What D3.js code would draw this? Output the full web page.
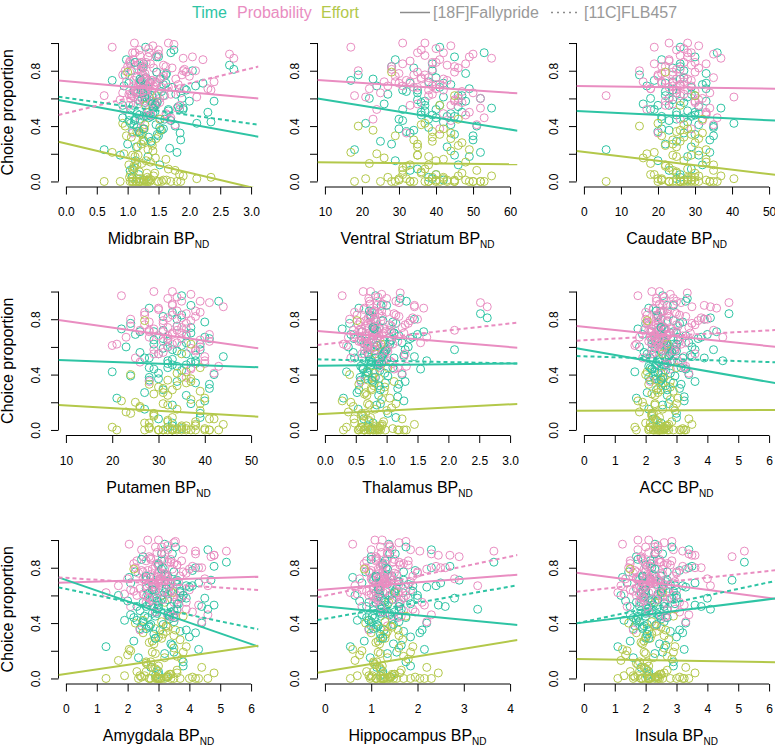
<!DOCTYPE html>
<html>
<head>
<meta charset="utf-8">
<script src="https://cdn.jsdelivr.net/npm/d3@7"></script>
<style>
body { margin: 0; background: #fff; }
text { font-family: "Liberation Sans", Arial, Helvetica, sans-serif; }
</style>
</head>
<body>
<div id="chart"></div>
<script>
// panels and x limits
var regions = ["Midbrain", "Ventral Striatum", "Caudate", "Putamen", "Thalamus", "ACC", "Amygdala", "Hippocampus", "Insula"];
var xlims = [[0, 3], [10, 60], [0, 50], [10, 50], [0, 3], [0, 6], [0, 6], [0, 4], [0, 6]];
var xsteps = [0.5, 10, 10, 10, 0.5, 1, 1, 1, 1];
var yTicks = [0, 0.2, 0.4, 0.6, 0.8, 1.0];
var yTickLabels = ["0.0", "", "0.4", "", "0.8", ""];

// [18F]Fallypride subjects: choice proportions
var timeF = [.45,.61,.88,.34,.66,.52,.78,.05, .23,.57,.49,.71,.02,.63,.40,.55,
  .82,.30,.69,.47,.58,.12,.36,.75, .27,.50,.64,.93,.01,.44,.53,.72,
  .60,.19,.38,.80,.67,.48,.56,.25, .42,.97,.08,.62,.51,.70,.77,.33,
  .59,.46,.65,.21,.85,.54,.15,.43, .50,.73,.68,.37,.58,.03,.90,.45,
  .35,.62,.48,.29,.71,.55,.18,.66, .41,.83,.52,.09,.60,.39,.74,.47];
var probF = [.66,.93,.72,.58,.79,.85,.48,.70, .62,.75,.98,.55,.81,.69,.41,.88,
  .77,.64,.52,.73,.91,.60,.35,.86, .83,.57,.68,.46,.74,1.0,.89,.71,
  .67,.59,.78,.63,.50,.95,.72,.84, .61,.70,.87,.65,1.0,.44,.80,.92,
  .56,.96,.73,.53,.69,.82,.76,.66, .74,.97,.38,.68,.85,.62,.79,.71,
  .72,.58,.86,.64,.49,.77,.90,.69, .55,.81,.67,.93,.60,.75,.45,.83];
var effortF = [.18,.02,.33,.00,.27,.05,.01,.00, .00,.41,.22,.12,.36,.03,.08,.00,
  .30,.00,.20,.01,.00,.45,.02,.15, .79,.06,.25,.00,.38,.10,.04,.00,
  .13,.00,.01,.32,.23,.07,.17,.00, .02,.55,.00,.28,.09,.35,.40,.00,
  .19,.01,.11,.00,.29,.04,.00,.03, .06,.21,.34,.00,.14,.00,.62,.02,
  .00,.26,.03,.00,.16,.42,.00,.08, .31,.00,.05,.19,.00,.12,.37,.01];

// [11C]FLB457 subjects: choice proportions
var timeB = [.55,.68,.41,.80,.47,.62,.35,.74, .58,.90,.44,.66,.52,.29,.71,.49,
  .63,.38,.84,.57,.46,.77,.60,.32, .69,.53,.95,.42,.65,.50,.24,.73,
  .56,.81,.45,.61,.67,.39,.86,.54, .48,.70,.36,.58,.79,.44,.64,.52];
var probB = [.70,.82,.61,.90,.66,.76,.55,.85, .72,.95,.63,.79,.68,.48,.88,.65,
  .74,.58,.92,.71,.64,.83,.77,.52, .80,.69,.99,.60,.75,.67,.45,.86,
  .73,.89,.62,.78,.81,.57,.93,.70, .68,.84,.59,.76,.91,.63,.72,.80];

// BPnd per region, Fallypride subjects
var midbrainF = [1.12,1.35,0.98,1.48,1.22,1.05,1.63,1.18, 0.62,1.28,1.41,1.02,1.15,1.32,1.77,1.09,
  1.25,1.86,0.94,1.38,1.20,1.52,1.08,1.30, 1.00,1.44,1.16,1.70,1.27,1.11,1.90,1.36,
  1.23,0.88,1.58,1.06,1.33,1.19,1.45,1.14, 2.12,1.29,1.04,1.39,1.66,1.21,0.96,1.50,
  1.17,1.34,1.10,1.80,1.26,1.42,1.13,2.35, 1.31,0.75,1.24,1.55,1.37,1.07,1.47,1.20,
  1.19,1.40,1.03,1.27,1.62,0.92,1.33,1.10, 1.46,1.22,1.84,1.08,1.30,1.15,1.53,1.26];
var vsF = [38,42,29,45,35,31,48,40, 18,36,44,33,39,27,51,41,
  34,50,24,43,37,46,32,40, 28,47,35,53,42,31,55,38,
  22,45,30,39,49,36,26,43, 21,41,33,47,37,44,19,50,
  35,40,32,52,39,46,29,42, 36,17,41,34,48,38,45,30,
  33,46,39,25,42,37,49,31, 44,28,40,35,52,38,23,45];
var caudateF = [25,28,21,30,24,19,33,26, 6,27,31,22,25,29,35,23,
  24,34,17,29,26,32,20,27, 22,30,25,36,28,23,37,24,
  18,31,21,27,33,25,16,29, 40.5,26,23,30,28,32,15,35,
  24,27,22,34,26,31,20,28, 25,19,29,23,33,26,30,21,
  27,22,30,25,33,20,28,24, 31,26,18,29,23,35,26,21];
var putamenF = [32,35,28,38,31,27,40,33, 21,34,37,29,32,36,42,30,
  31,41,25,36,33,39,28,34, 27,38,32,43,35,29,44,31,
  23,37,28,34,40,32,26,36, 20,35,30,39,33,37,24,41,
  31,34,29,40,33,38,27,35, 32,22,36,30,39,33,37,28,
  34,29,38,31,26,36,33,41, 30,35,28,39,32,24,37,33];
var thalamusF = [0.72,0.85,0.55,0.98,0.66,0.48,1.10,0.78, 0.30,0.80,0.92,0.60,0.70,0.83,1.25,0.64,
  0.75,1.18,0.42,0.88,0.73,1.02,0.58,0.81, 0.52,0.95,0.68,1.32,0.77,0.62,1.45,0.84,
  0.38,0.90,0.57,0.79,1.05,0.71,0.46,0.87, 0.35,0.82,0.63,0.96,0.74,1.12,0.40,1.20,
  0.69,0.86,0.59,1.28,0.76,0.93,0.54,0.89, 0.72,0.28,0.80,0.65,1.00,0.70,0.91,0.61,
  0.78,0.64,0.92,0.55,1.08,0.70,0.84,0.47, 0.97,0.73,0.60,1.15,0.81,0.66,0.88,0.75];
var accF = [2.3,2.6,2.1,2.9,2.4,2.0,3.2,2.5, 1.7,2.5,2.8,2.2,2.35,2.7,3.4,2.25,
  2.4,3.1,1.9,2.65,2.45,3.0,2.15,2.55, 2.05,2.85,2.3,3.3,2.6,2.2,3.5,2.4,
  1.8,2.75,2.1,2.5,3.05,2.35,1.95,2.7, 1.65,2.55,2.25,2.9,2.45,2.8,2.0,3.15,
  2.3,2.6,2.2,3.25,2.5,2.75,2.1,2.65, 2.4,1.75,2.55,2.3,2.95,2.45,2.7,2.15,
  2.45,2.2,2.7,2.35,2.9,2.05,2.55,2.3, 2.8,2.4,2.15,3.0,2.6,2.25,2.5,2.35];
var amygdalaF = [2.9,3.3,2.5,3.7,2.8,2.3,4.1,3.0, 1.3,3.1,3.5,2.6,2.9,3.4,4.4,2.7,
  3.0,4.0,2.1,3.3,2.95,3.8,2.4,3.2, 2.2,3.6,2.85,4.6,3.25,2.65,4.8,3.05,
  1.7,3.5,2.45,3.15,3.9,2.9,2.0,3.4, 1.9,3.2,2.75,3.7,3.0,3.55,2.25,4.2,
  2.8,3.3,2.6,4.3,3.1,3.6,2.35,3.35, 2.95,2.05,3.25,2.7,3.75,3.0,3.45,2.55,
  3.05,2.7,3.4,2.9,3.6,2.5,3.2,2.8, 3.5,3.0,2.6,3.8,3.1,2.75,3.3,2.95];
var hippoF = [1.2,1.45,1.0,1.7,1.15,0.9,1.95,1.25, 0.55,1.3,1.6,1.05,1.2,1.5,2.2,1.1,
  1.25,1.85,0.8,1.4,1.22,1.75,0.95,1.35, 0.85,1.65,1.18,2.3,1.42,1.08,2.45,1.28,
  0.65,1.55,1.0,1.32,1.9,1.2,0.75,1.48, 0.7,1.38,1.12,1.68,1.24,1.58,0.88,2.05,
  1.15,1.4,1.05,2.15,1.3,1.62,0.98,1.45, 1.22,0.6,1.35,1.1,1.8,1.26,1.52,1.02,
  1.28,1.1,1.5,1.2,1.7,0.95,1.35,1.18, 1.6,1.25,1.05,1.85,1.4,1.12,1.45,1.3];
var insulaF = [2.0,2.4,1.7,2.8,1.95,1.5,3.1,2.1, 1.1,2.2,2.6,1.8,2.05,2.5,3.3,1.85,
  2.0,3.0,1.4,2.35,2.1,2.9,1.6,2.25, 1.5,2.7,1.9,3.4,2.3,1.75,3.6,2.15,
  1.2,2.55,1.65,2.2,2.95,2.0,1.35,2.45, 1.3,2.3,1.85,2.75,2.1,2.65,1.45,3.2,
  1.95,2.4,1.7,3.25,2.15,2.6,1.6,2.5, 2.05,1.25,2.35,1.9,2.85,2.1,2.55,1.75,
  2.1,1.85,2.45,2.0,2.7,1.7,2.3,1.95, 2.6,2.15,1.8,2.9,2.4,2.05,2.5,2.2];

// BPnd per region, FLB457 subjects (no striatum)
var midbrainB = [1.45,1.72,1.10,2.05,1.30,1.58,1.85,1.20, 2.40,1.50,1.02,1.95,1.66,1.38,2.22,1.15,
  1.78,1.26,2.65,1.48,0.92,1.62,1.88,1.34, 2.10,1.42,1.75,1.05,1.55,2.30,1.68,1.22,
  1.40,2.72,1.60,1.28,1.92,1.52,1.12,1.82, 1.35,1.58,1.18,2.00,1.47,1.70,1.25,1.90];
var thalamusB = [0.95,1.20,0.70,1.45,0.85,1.05,1.30,0.78, 2.10,1.00,0.62,1.38,1.12,0.90,1.60,0.75,
  1.25,0.82,2.52,0.98,0.58,1.15,1.35,0.88, 1.50,0.92,1.22,0.68,1.08,1.65,1.18,0.80,
  0.96,2.63,1.10,0.84,1.42,1.02,0.72,1.28, 0.88,1.12,0.76,1.30,0.94,1.55,1.05,0.82];
var accB = [2.8,3.3,2.4,3.9,2.6,3.0,3.6,2.5, 4.2,2.9,2.2,3.7,3.2,2.7,4.3,2.45,
  3.4,2.55,4.7,3.0,2.1,3.1,3.5,2.65, 4.0,2.75,3.35,2.3,3.05,4.5,3.25,2.6,
  2.85,4.1,3.15,2.7,3.8,2.95,2.35,3.45, 2.7,3.0,2.5,3.6,2.9,3.3,2.6,3.9];
var amygdalaB = [3.0,3.6,2.5,4.2,2.8,3.2,3.9,2.6, 4.5,3.1,2.2,4.0,3.4,2.9,4.7,2.4,
  3.7,2.7,5.2,3.3,2.1,3.5,3.8,2.85, 4.3,3.0,3.55,2.3,3.25,4.6,3.45,2.75,
  2.95,4.8,3.35,2.65,4.1,3.15,2.45,3.65, 2.9,3.3,2.6,3.9,3.1,3.5,2.8,4.4];
var hippoB = [1.3,1.8,1.0,2.3,1.2,1.5,2.1,1.1, 2.8,1.4,0.9,2.2,1.6,1.25,2.9,1.05,
  1.9,1.15,3.65,1.45,0.8,1.7,2.0,1.2, 2.5,1.35,1.75,0.95,1.55,3.3,1.65,1.1,
  1.28,2.7,1.58,1.18,2.4,1.48,1.0,1.85, 1.25,1.6,1.05,2.0,1.35,1.75,1.15,2.6];
var insulaB = [2.2,2.8,1.8,3.4,2.0,2.5,3.1,1.9, 4.0,2.3,1.6,3.3,2.6,2.1,4.8,1.85,
  2.9,1.95,5.2,2.4,1.5,2.7,3.0,2.05, 3.6,2.25,2.85,1.7,2.55,4.1,2.65,1.9,
  2.15,3.5,2.45,2.0,3.2,2.35,1.75,2.95, 2.1,2.5,1.9,3.0,2.3,2.7,2.0,3.8];

var xF = [midbrainF, vsF, caudateF, putamenF, thalamusF, accF, amygdalaF, hippoF, insulaF];
var xB = [midbrainB, null, null, null, thalamusB, accB, amygdalaB, hippoB, insulaB];

// fitted lines: [x1, y1, x2, y2]
var fitTimeF = [[-0.12,.588,3.12,.323],[8,.60,62,.367],[-2,.509,52,.439],[8.4,.505,51.6,.453],
  [-0.12,.464,3.12,.481],[-0.24,.59,6.24,.337],[-0.24,.73,6.24,.23],[-0.16,.526,4.16,.386],[-0.24,.398,6.24,.579]];
var fitProbF = [[-0.12,.73,3.12,.60],[8,.733,62,.637],[-2,.69,52,.67],[8.4,.794,51.6,.59],
  [-0.12,.715,3.12,.594],[-0.24,.751,6.24,.60],[-0.24,.692,6.24,.735],[-0.16,.639,4.16,.749],[-0.24,.764,6.24,.574]];
var fitEffortF = [[-0.12,.287,3.12,-.055],[8,.139,62,.124],[-2,.22,52,.047],[8.4,.18,51.6,.096],
  [-0.12,.113,3.12,.188],[-0.24,.139,6.24,.144],[-0.24,.025,6.24,.237],[-0.16,.042,4.16,.278],[-0.24,.141,6.24,.117]];
var fitTimeB = [[-0.12,.612,3.12,.41],null,null,null,
  [-0.12,.51,3.12,.48],[-0.24,.534,6.24,.489],[-0.24,.658,6.24,.355],[-0.16,.422,4.16,.673],[-0.24,.398,6.24,.706]];
var fitProbB = [[-0.12,.48,3.12,.83],null,null,null,
  [-0.12,.614,3.12,.775],[-0.24,.645,6.24,.722],[-0.24,.73,6.24,.639],[-0.16,.586,4.16,.892],[-0.24,.627,6.24,.783]];

var cTime = "#2ec4a4", cProb = "#e98dc1", cEffort = "#b3c84a", cGrey = "#999999";

var width = 775, height = 748;
var colW = 259, rowH = 248.5, left0 = 58.5, top0 = 37.5,
    plotW = 200, plotH = 149.5;

var svg = d3.select("#chart")
  .append("svg")
    .attr("width", width)
    .attr("height", height);

regions.forEach(function(name, i) {
  var col = i % 3, row = Math.floor(i / 3);
  var lim = xlims[i], pad = (lim[1] - lim[0]) * 0.04;

  var x = d3.scaleLinear().domain([lim[0] - pad, lim[1] + pad]).range([0, plotW]);
  var y = d3.scaleLinear().domain([-0.04, 1.04]).range([plotH, 0]);

  var g = svg.append("g")
    .attr("transform", "translate(" + (col * colW + left0) + "," + (row * rowH + top0) + ")");

  g.append("clipPath").attr("id", "clip" + i)
    .append("rect").attr("width", plotW).attr("height", plotH);

  // x axis
  var xt = d3.range(lim[0], lim[1] + 1e-9, xsteps[i]);
  var xa = g.append("g")
    .attr("transform", "translate(0," + plotH + ")")
    .call(d3.axisBottom(x).tickValues(xt).tickSizeOuter(0).tickSize(7.5)
      .tickFormat(xsteps[i] < 1 ? d3.format(".1f") : d3.format("d")));
  xa.select(".domain").remove();
  xa.append("line")
    .attr("x1", x(xt[0])).attr("x2", x(xt[xt.length - 1]))
    .attr("stroke", "black");
  xa.attr("font-size", 12).attr("font-family", null);
  xa.selectAll(".tick text").attr("dy", null).attr("y", 29).attr("fill", "black");

  // y axis
  var ya = g.append("g")
    .call(d3.axisLeft(y).tickValues(yTicks).tickSizeOuter(0).tickSize(7.5)
      .tickFormat(function(d, k) { return yTickLabels[k]; }));
  ya.select(".domain").remove();
  ya.append("line")
    .attr("y1", y(0)).attr("y2", y(1))
    .attr("stroke", "black");
  ya.attr("font-size", 12).attr("font-family", null);
  ya.selectAll(".tick text")
    .attr("dy", null).attr("x", 0).attr("y", -19)
    .attr("text-anchor", "middle")
    .attr("transform", "rotate(-90)")
    .attr("fill", "black");

  // x axis title
  var t = g.append("text")
    .attr("x", plotW / 2).attr("y", plotH + 57)
    .attr("text-anchor", "middle")
    .attr("font-size", 16);
  t.append("tspan").text(name + " BP");
  t.append("tspan").attr("font-size", 10).attr("dy", 4).text("ND");

  if (col == 0) {
    g.append("text")
      .attr("transform", "translate(" + (13 - left0) + "," + y(0.5) + ") rotate(-90)")
      .attr("text-anchor", "middle")
      .attr("font-size", 16)
      .text("Choice proportion");
  }

  var plot = g.append("g").attr("clip-path", "url(#clip" + i + ")");

  function dots(xs, ys, color) {
    if (!xs) return;
    var n = Math.min(xs.length, ys.length);
    plot.append("g").selectAll("circle")
      .data(d3.range(n))
      .enter()
      .append("circle")
        .attr("cx", function(k) { return x(xs[k]); })
        .attr("cy", function(k) { return y(ys[k]); })
        .attr("r", 4)
        .attr("fill", "none")
        .attr("stroke", color)
        .attr("stroke-width", 1);
  }
  dots(xF[i], timeF, cTime);
  dots(xF[i], probF, cProb);
  dots(xF[i], effortF, cEffort);
  dots(xB[i], timeB, cTime);
  dots(xB[i], probB, cProb);

  function fit(f, color, dash) {
    if (!f) return;
    plot.append("line")
      .attr("x1", x(f[0])).attr("y1", y(f[1]))
      .attr("x2", x(f[2])).attr("y2", y(f[3]))
      .attr("stroke", color)
      .attr("stroke-width", 2)
      .attr("stroke-dasharray", dash);
  }
  fit(fitProbF[i], cProb, null);
  fit(fitTimeF[i], cTime, null);
  fit(fitEffortF[i], cEffort, null);
  fit(fitProbB[i], cProb, "4,3");
  fit(fitTimeB[i], cTime, "4,3");
});

// legend
var legendLabels = ["Time", "Probability", "Effort"];
var legendColors = [cTime, cProb, cEffort];
var legendX = [192, 237, 321];
var lg = svg.append("g").attr("font-size", 16);
legendLabels.forEach(function(l, k) {
  lg.append("text").attr("x", legendX[k]).attr("y", 18).attr("fill", legendColors[k]).text(l);
});
var tracerLabels = ["[18F]Fallypride", "[11C]FLB457"];
var tracerX = [400, 551];
var tracerDash = [null, "2,4"];
tracerLabels.forEach(function(l, k) {
  lg.append("line")
    .attr("x1", tracerX[k]).attr("x2", tracerX[k] + 30)
    .attr("y1", 12.5).attr("y2", 12.5)
    .attr("stroke", "#8c8c8c").attr("stroke-width", 1.5)
    .attr("stroke-dasharray", tracerDash[k]);
  lg.append("text").attr("x", tracerX[k] + 33).attr("y", 18).attr("fill", cGrey).text(l);
});
</script>
</body>
</html>
